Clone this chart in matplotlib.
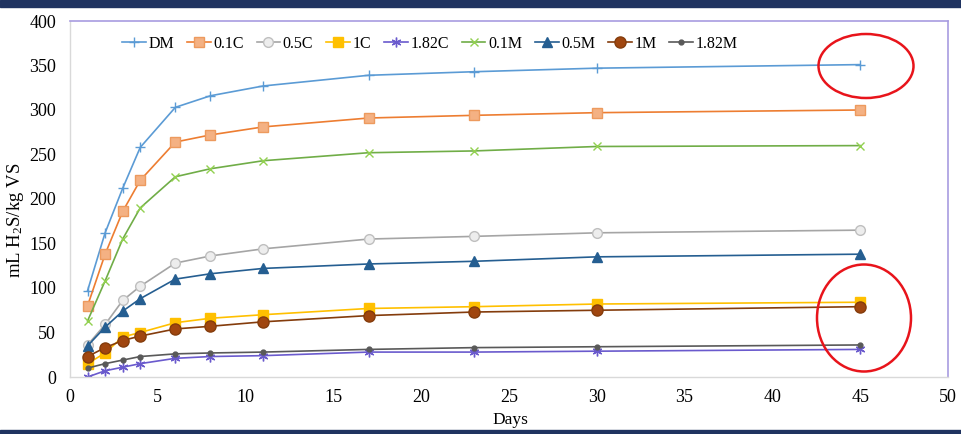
import matplotlib
matplotlib.use("Agg")
import matplotlib.pyplot as plt
from matplotlib.patches import Ellipse, Rectangle

plt.rcParams['font.family'] = ['Liberation Serif', 'DejaVu Serif']
plt.rcParams['mathtext.fontset'] = 'custom'
plt.rcParams['mathtext.rm'] = 'Liberation Serif'
plt.rcParams['mathtext.it'] = 'Liberation Serif:italic'

days = [1, 2, 3, 4, 6, 8, 11, 17, 23, 30, 45]
series_names = ["DM", "0.1C", "0.5C", "1C", "1.82C", "0.1M", "0.5M", "1M", "1.82M"]
dm = [97, 162, 212, 258, 303, 316, 327, 339, 343, 347, 351]
c01 = [80, 138, 186, 221, 264, 272, 281, 291, 294, 297, 300]
c05 = [36, 59, 86, 102, 128, 136, 144, 155, 158, 162, 165]
c1 = [15, 27, 45, 50, 61, 66, 70, 77, 79, 82, 84]
c182 = [0, 7, 11, 15, 21, 23, 24, 28, 28, 29, 31]
m01 = [63, 108, 155, 190, 225, 234, 243, 252, 254, 259, 260]
m05 = [35, 56, 74, 88, 110, 116, 122, 127, 130, 135, 138]
m1 = [23, 33, 41, 46, 54, 57, 62, 69, 73, 75, 79]
m182 = [10, 15, 19, 23, 26, 27, 28, 31, 33, 34, 36]
x_ticks = [0, 5, 10, 15, 20, 25, 30, 35, 40, 45, 50]
y_ticks = [0, 50, 100, 150, 200, 250, 300, 350, 400]

styles = [
    dict(color='#5B9BD5', marker='+', ms=7, mew=1.0, mfc='#5B9BD5', mec='#5B9BD5'),
    dict(color='#ED7D31', marker='s', ms=7, mew=1.0, mfc='#F4B183', mec='#ED9A5E'),
    dict(color='#A5A5A5', marker='o', ms=7, mew=1.0, mfc='#EDEDED', mec='#BFBFBF'),
    dict(color='#FFC000', marker='s', ms=7, mew=1.0, mfc='#FFC000', mec='#FFC000'),
    dict(color='#6A5ACD', marker=(6, 2, 0), ms=7, mew=1.0, mfc='#6A5ACD', mec='#6A5ACD'),
    dict(color='#70AD47', marker='x', ms=6, mew=1.0, mfc='#92D050', mec='#92D050'),
    dict(color='#255E91', marker='^', ms=7, mew=1.0, mfc='#255E91', mec='#255E91'),
    dict(color='#843C0C', marker='o', ms=8, mew=1.0, mfc='#A0460F', mec='#843C0C'),
    dict(color='#595959', marker='o', ms=3.5, mew=1.0, mfc='#595959', mec='#595959'),
]
data = [dm, c01, c05, c1, c182, m01, m05, m1, m182]

fig = plt.figure(figsize=(9.61, 4.34), dpi=100)
ax = fig.add_axes([70/961, 1-377/434, (948-70)/961, (377-21)/434])

for name, vals, st in zip(series_names, data, styles):
    ax.plot(days, vals, label=name, lw=1.2, **st)

ax.set_xlim(0, 50)
ax.set_ylim(0, 400)
ax.set_xticks(x_ticks)
ax.set_yticks(y_ticks)
ax.tick_params(length=0, labelsize=13)
ax.tick_params(axis='x', pad=9)
ax.tick_params(axis='y', pad=10)
for s in ['left', 'bottom']:
    ax.spines[s].set_color('#D9D9D9')
    ax.spines[s].set_linewidth(1.0)
for s in ['top', 'right']:
    ax.spines[s].set_color('#A89CE0')
    ax.spines[s].set_linewidth(1.2)

xl = ax.set_xlabel("Days", fontsize=12.5)
xl.set_va('center')
ax.xaxis.set_label_coords((510-70)/878, (377-420)/356)
yl = ax.set_ylabel(r"mL H$_{\mathrm{2}}$S/kg VS", fontsize=13.5)
yl.set_va('center')
ax.yaxis.set_label_coords((16-70)/878, (377-220)/356)

ax.legend(loc='center left', bbox_to_anchor=(52/878, 1-23/356), ncol=9, frameon=False,
          fontsize=11.5, handlelength=1.5, handletextpad=0.15, columnspacing=0.8,
          borderaxespad=0, borderpad=0)

# navy bands
fig.patches.append(Rectangle((0, 1-7/434), 1, 7/434, transform=fig.transFigure,
                             color='#1F3360', zorder=10))
fig.patches.append(Rectangle((0, 0), 1, 4/434, transform=fig.transFigure,
                             color='#1F3360', zorder=10))

# red annotation ellipses
fig.patches.append(Ellipse((866/961, 1-66/434), 95/961, 64/434, transform=fig.transFigure,
                           fill=False, edgecolor='#E8141B', lw=1.8, zorder=10))
fig.patches.append(Ellipse((864/961, 1-318/434), 94/961, 107/434, transform=fig.transFigure,
                           fill=False, edgecolor='#E8141B', lw=1.8, zorder=10))

fig.savefig("out.png", dpi=100)
